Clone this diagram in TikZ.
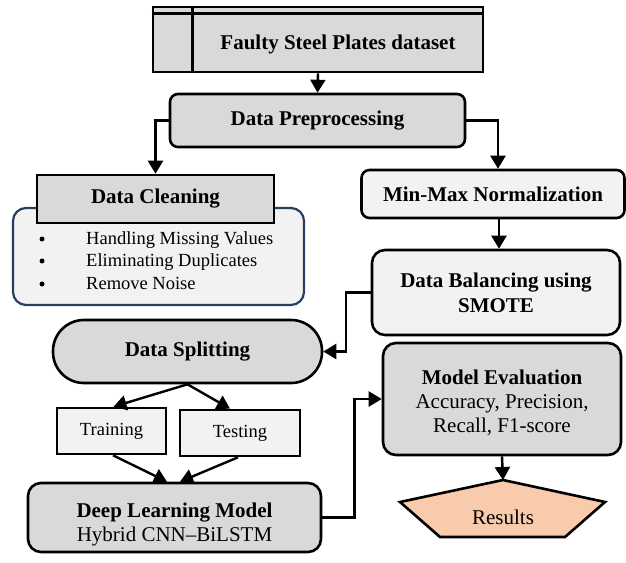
\documentclass[tikz,border=0pt]{standalone}
\usepackage{fontspec}
\setmainfont{Liberation Serif}
\usetikzlibrary{arrows.meta}
\definecolor{boxgray}{HTML}{D9D9D9}
\definecolor{boxlight}{HTML}{F2F2F2}
\definecolor{peach}{HTML}{F8CBAD}
\definecolor{listblue}{HTML}{243F60}
\tikzset{
  big/.style={font=\fontsize{21}{24}\selectfont},
  bigbold/.style={font=\fontsize{21}{24}\selectfont\bfseries},
  small/.style={font=\fontsize{18.5}{22.5}\selectfont},
  boxbase/.style={draw=black, line width=2.6pt, inner sep=0pt, align=center},
  graybox/.style={boxbase, fill=boxgray},
  lightbox/.style={boxbase, fill=boxlight},
  bulletdot/.style={circle, fill=black, inner sep=0pt, minimum size=5pt},
  arr/.style={line width=2.4pt, -{Triangle[length=13pt,width=15pt]}},
}
\begin{document}
\begin{tikzpicture}[x=1pt,y=-1pt]
\useasboundingbox (0,0) rectangle (626,562);

% dataset
\node[graybox, minimum width=330pt, minimum height=65pt] (ds) at (318,39.5) {};
\draw[line width=2.6pt] ([xshift=41pt]ds.north west) -- ([xshift=41pt]ds.south west);
\draw[line width=2.6pt] ([yshift=-8pt]ds.north west) -- ([yshift=-8pt]ds.north east);
\node[bigbold] (dstext) at (338,44) {Faulty Steel Plates dataset};

% preprocessing
\node[graybox, rounded corners=8pt, minimum width=295pt, minimum height=53pt, bigbold] (pp) at (317.5,120.5) {Data Preprocessing};

% cleaning list box
\node[draw=listblue, line width=2.2pt, fill=boxlight, rounded corners=13pt,
      minimum width=291pt, minimum height=97pt] (list) at (158.5,256.5) {};
\node[graybox, minimum width=237pt, minimum height=48pt, bigbold] (dc) at (155.5,199) {Data Cleaning};
\node[bulletdot] (b1) at (42,239) {};
\node[bulletdot] (b2) at (42,261) {};
\node[bulletdot] (b3) at (42,284) {};
\node[small, anchor=base west, inner sep=0pt] (l1) at (86,244) {Handling Missing Values};
\node[small, anchor=base west, inner sep=0pt] (l2) at (86,266) {Eliminating Duplicates};
\node[small, anchor=base west, inner sep=0pt] (l3) at (86,289) {Remove Noise};

% min-max
\node[lightbox, rounded corners=8pt, minimum width=263pt, minimum height=48pt, bigbold] (mm) at (493,194) {Min-Max Normalization};

% balancing
\node[lightbox, rounded corners=13pt, minimum width=248pt, minimum height=85pt,
      font=\fontsize{21}{25}\selectfont\bfseries] (db) at (496,292.5) {Data Balancing using\\SMOTE};

% splitting
\node[graybox, rounded corners=31pt, minimum width=269pt, minimum height=63pt, bigbold] (split) at (187.5,351.5) {Data Splitting};

% training / testing
\node[lightbox, minimum width=109pt, minimum height=46pt, small] (train) at (111.5,431) {Training};
\node[lightbox, minimum width=120pt, minimum height=46pt, small] (test) at (240,433) {Testing};

% deep learning model
\node[graybox, rounded corners=13pt, minimum width=293pt, minimum height=69pt] (dl) at (174.5,517.5) {};
\node[big, align=center] (dltext) at (174.5,524) {\textbf{Deep Learning Model}\\Hybrid CNN–BiLSTM};

% model evaluation
\node[graybox, rounded corners=13pt, minimum width=238pt, minimum height=112pt] (me) at (502,399) {};
\node[big, align=center] (metext) at (502,403) {\textbf{Model Evaluation}\\Accuracy, Precision,\\Recall, F1-score};

% results
\draw[line width=2.6pt, fill=peach, line join=miter]
  (503,480) coordinate (restop) -- (605,502) -- (565,537) -- (440,537) -- (400,502) -- cycle;
\node[big] (res) at (503,517) {Results};

% connectors
\draw[arr] (ds.south) -- (pp.north);
\draw[arr] (pp.west) -| (dc.north);
\draw[arr] (pp.east) -| ([xshift=5pt]mm.north);
\draw[arr] ([xshift=6pt]mm.south) -- ([xshift=6pt]mm.south |- db.north);
\draw[arr] (db.west) -- ++(-25,0) |- (split.east);
\draw[arr] (split.south) -- ([xshift=2pt]train.north);
\draw[arr] (split.south) -- ([xshift=-10pt]test.north);
\draw[arr] ([xshift=1.5pt]train.south) -- ([xshift=-7.5pt]dl.north);
\draw[arr] ([xshift=-2pt]test.south) -- ([xshift=5.5pt]dl.north);
\draw[arr] (dl.east) -- ++(32,0) |- (me.west);
\draw[arr] (me.south) -- (restop);
\end{tikzpicture}
\end{document}
